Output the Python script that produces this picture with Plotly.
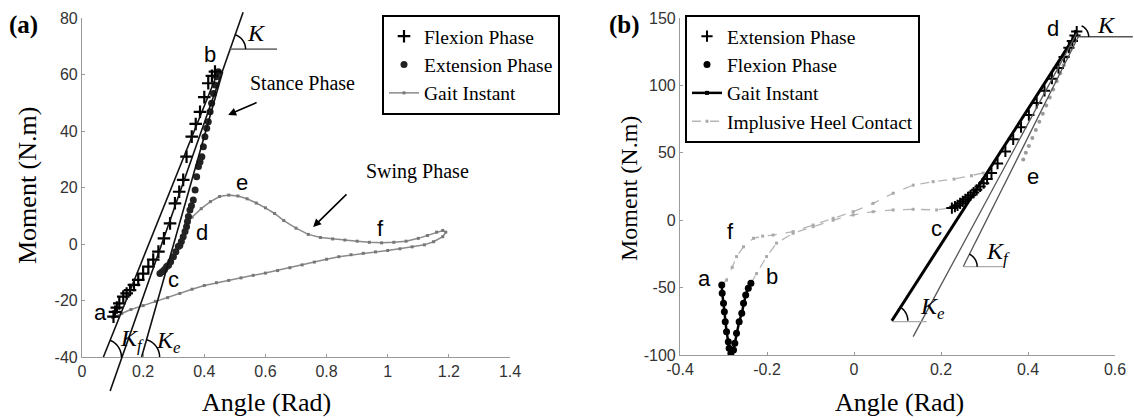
import math
import plotly.graph_objects as go

W, H = 1134, 420

# ---------------- data : panel (a) ----------------
flex_a_x = [0.103, 0.108, 0.114, 0.122, 0.135, 0.146, 0.157, 0.170, 0.184, 0.200, 0.217, 0.233, 0.250,
            0.268, 0.288, 0.304, 0.318, 0.331, 0.342, 0.359, 0.372, 0.386, 0.400, 0.413, 0.425, 0.435]
flex_a_y = [-25.7, -24, -22.5, -21, -18.6, -17.5, -16.3, -14.5, -12.7, -10.5, -8, -5.5, -2.7,
            2, 7.3, 14.4, 18.5, 22.7, 30.9, 38, 42.5, 46.8, 52, 56.9, 59.5, 61]

ext_a_x = [0.446, 0.44, 0.435, 0.43, 0.424, 0.419, 0.413, 0.408, 0.402, 0.397, 0.392, 0.386, 0.381, 0.375,
           0.370, 0.364, 0.358, 0.353, 0.348, 0.345, 0.342, 0.337, 0.331, 0.325, 0.320, 0.315, 0.307,
           0.299, 0.290, 0.283, 0.277, 0.270, 0.262, 0.255]
ext_a_y = [61, 59.2, 56.3, 53.3, 49.8, 46.8, 43.3, 41, 38, 34.4, 30.9, 29, 27.4, 23.8,
           19.1, 15.6, 13.5, 12, 9.7, 8, 6.1, 4.4, 2.6, 0.9, -0.5, -0.9, -2.7,
           -4.5, -6.3, -7.5, -8, -9, -9.8, -10.4]

gait_a_x = [0.34, 0.36, 0.39, 0.42, 0.45, 0.48, 0.51, 0.54, 0.57, 0.60, 0.63, 0.66, 0.70, 0.74, 0.78,
            0.82, 0.86, 0.90, 0.94, 0.98, 1.02, 1.06, 1.10, 1.13, 1.16, 1.18, 1.19, 1.18, 1.15, 1.12,
            1.08, 1.04, 1.00, 0.96, 0.92, 0.88, 0.84, 0.80, 0.76, 0.72, 0.68, 0.64, 0.60, 0.56, 0.52,
            0.48, 0.44, 0.40, 0.36, 0.32, 0.28, 0.24, 0.20, 0.16, 0.13, 0.10]
gait_a_y = [7, 9.5, 12.5, 15, 16.8, 17.3, 17, 16, 14.5, 12.8, 10.8, 8.3, 5.6, 3.4, 2.3,
            1.8, 1.4, 1.0, 0.6, 0.4, 0.6, 1.0, 2.0, 3.0, 4.2, 4.8, 4.2, 2.6, 0.8, -0.3,
            -1.0, -1.7, -2.3, -2.8, -3.3, -3.8, -4.5, -5.4, -6.4, -7.4, -8.4, -9.4, -10.3, -11.1, -12,
            -12.9, -13.7, -14.7, -16, -17.5, -19, -20.3, -21.8, -23.2, -24.6, -26]

# fitted stiffness lines (start point, end point)
kf_line_a = [(0.07, -40), (0.445, 61)]
k_line_a = [(0.092, -52), (0.527, 82)]
ke_line_a = [(0.195, -40), (0.46, 61)]
k_horiz_a = [(0.486, 69), (0.638, 69)]

labels_a = ["a", "b", "c", "d", "e", "f"]
labels_a_x = [0.059, 0.419, 0.298, 0.393, 0.523, 0.975]
labels_a_y = [-24.4, 67, -12.7, 4.2, 21.6, 5.6]

# ---------------- data : panel (b) ----------------
ext_b_x = [0.225, 0.232, 0.238, 0.244, 0.250, 0.256, 0.262, 0.268, 0.275, 0.282, 0.290, 0.298, 0.306,
           0.316, 0.330, 0.348, 0.366, 0.384, 0.402, 0.420, 0.438, 0.455, 0.470, 0.483, 0.494, 0.502,
           0.508, 0.512]
ext_b_y = [9, 10, 11, 12.5, 14, 15.5, 17, 18.5, 20.5, 22.5, 25, 27.5, 30.5,
           35, 42, 51, 60, 69, 78, 87, 96, 105, 113, 121, 128, 133, 137, 140]

flex_b_x = [-0.304, -0.303, -0.300, -0.298, -0.296, -0.293, -0.289, -0.287, -0.283,
            -0.277, -0.274, -0.270, -0.264, -0.258, -0.254, -0.249, -0.243, -0.237]
flex_b_y = [-48.1, -54.2, -61.7, -67.9, -75.3, -82.7, -90.1, -95, -98.7,
            -96.3, -91.3, -83.9, -75.3, -69.1, -61.7, -55.5, -50.5, -46.8]

heel_up_x = [-0.304, -0.293, -0.28, -0.27, -0.254, -0.231, -0.21, -0.186, -0.14, -0.094, -0.048,
             -0.002, 0.044, 0.09, 0.136, 0.182, 0.23, 0.27, 0.297]
heel_up_y = [-48, -44.4, -35, -27, -19.7, -13.4, -11.8, -11, -8.5, -3.6, 1.4,
             6.3, 12.5, 20, 26, 28.6, 30.5, 33, 35]
heel_lo_x = [-0.237, -0.224, -0.201, -0.178, -0.14, -0.094, -0.048, -0.002, 0.044, 0.09, 0.136, 0.19, 0.228]
heel_lo_y = [-46.8, -39.6, -27, -17, -9.7, -4.8, 0, 3.9, 6.3, 7.6, 8.1, 7.6, 9.5]

grey_b_x = [0.512, 0.505, 0.498, 0.49, 0.482, 0.474, 0.466, 0.458, 0.45, 0.442, 0.434, 0.426,
            0.418, 0.41, 0.402, 0.395, 0.389]
grey_b_y = [138, 133, 127, 121, 115, 109, 103, 97, 91, 85, 79, 73, 67, 61, 55, 50, 45]

ke_line_b = [(0.087, -74.6), (0.512, 138.6)]
k_line_b = [(0.136, -86.4), (0.512, 138.6)]
kf_line_b = [(0.251, -34.5), (0.517, 137)]
ke_horiz_b = [(0.087, -75.3), (0.167, -75.3)]
kf_horiz_b = [(0.251, -34.5), (0.343, -34.5)]
k_horiz_b = [(0.512, 136), (0.641, 136)]

labels_b = ["a", "b", "f", "c", "d", "e"]
labels_b_x = [-0.343, -0.189, -0.285, 0.19, 0.457, 0.412]
labels_b_y = [-43, -41.9, -8.5, -6, 142, 32.3]

# ---------------- axes ----------------
A_XR, A_YR = [0, 1.4], [-40, 80]
B_XR, B_YR = [-0.4, 0.6], [-100, 150]
A_XD, A_YD = [82 / W, 510 / W], [63 / H, 402 / H]
B_XD, B_YD = [680 / W, 1115 / W], [65 / H, 402 / H]
A_XT = [0, 0.2, 0.4, 0.6, 0.8, 1, 1.2, 1.4]
A_YT = [-40, -20, 0, 20, 40, 60, 80]
B_XT = [-0.4, -0.2, 0, 0.2, 0.4, 0.6]
B_YT = [-100, -50, 0, 50, 100, 150]

PANELS = {"a": (A_XR, A_YR, A_XD, A_YD), "b": (B_XR, B_YR, B_XD, B_YD)}


def to_paper(panel, x, y):
    xr, yr, xd, yd = PANELS[panel]
    px = xd[0] + (x - xr[0]) / (xr[1] - xr[0]) * (xd[1] - xd[0])
    py = yd[0] + (y - yr[0]) / (yr[1] - yr[0]) * (yd[1] - yd[0])
    return px, py


def fmt(v):
    return "%g" % v


shapes = []


def line_shape(panel, seg, color="black", width=1.5):
    (x0, y0), (x1, y1) = seg
    p0 = to_paper(panel, x0, y0)
    p1 = to_paper(panel, x1, y1)
    shapes.append(dict(type="line", xref="paper", yref="paper", x0=p0[0], y0=p0[1], x1=p1[0], y1=p1[1],
                       line=dict(color=color, width=width)))


def arc_shape(panel, seg, radius, color="black", width=1.5):
    (x0, y0), (x1, y1) = seg
    c = to_paper(panel, x0, y0)
    p1 = to_paper(panel, x1, y1)
    theta = math.atan2((p1[1] - c[1]) * H, (p1[0] - c[0]) * W)
    n = 16
    pts = []
    for i in range(n + 1):
        t = theta * i / n
        pts.append((c[0] + radius * math.cos(t) / W, c[1] + radius * math.sin(t) / H))
    path = "M " + " L ".join("%.5f,%.5f" % p for p in pts)
    shapes.append(dict(type="path", xref="paper", yref="paper", path=path,
                       line=dict(color=color, width=width)))


fig = go.Figure()

SERIF = "Liberation Serif"
SANS = "Liberation Sans"

# ---------- panel (a) traces ----------
fig.add_trace(go.Scatter(x=gait_a_x, y=gait_a_y, mode="lines+markers", name="Gait Instant",
                         line=dict(color="#8a8a8a", width=1.5),
                         marker=dict(symbol="square", size=3, color="#777"),
                         xaxis="x", yaxis="y", legend="legend", legendrank=3))
fig.add_trace(go.Scatter(x=ext_a_x, y=ext_a_y, mode="markers", name="Extension Phase",
                         marker=dict(symbol="circle", size=7, color="#222"),
                         xaxis="x", yaxis="y", legend="legend", legendrank=2))
fig.add_trace(go.Scatter(x=flex_a_x, y=flex_a_y, mode="markers", name="Flexion Phase",
                         marker=dict(symbol="cross-thin", size=9, line=dict(color="black", width=2.2)),
                         xaxis="x", yaxis="y", legend="legend", legendrank=1))

# ---------- panel (b) traces ----------
fig.add_trace(go.Scatter(x=heel_up_x, y=heel_up_y, mode="lines+markers", name="Implusive Heel Contact",
                         line=dict(color="#b5b5b5", width=1.3, dash="dash"),
                         marker=dict(symbol="square", size=3, color="#aaa"),
                         xaxis="x2", yaxis="y2", legend="legend2", legendrank=4))
fig.add_trace(go.Scatter(x=heel_lo_x, y=heel_lo_y, mode="lines+markers", showlegend=False,
                         line=dict(color="#b5b5b5", width=1.3, dash="dash"),
                         marker=dict(symbol="square", size=3, color="#aaa"),
                         xaxis="x2", yaxis="y2", legend="legend2"))
fig.add_trace(go.Scatter(x=grey_b_x, y=grey_b_y, mode="markers", showlegend=False,
                         marker=dict(symbol="circle", size=4, color="#9a9a9a"),
                         xaxis="x2", yaxis="y2", legend="legend2"))
fig.add_trace(go.Scatter(x=flex_b_x, y=flex_b_y, mode="lines+markers", name="Gait Instant",
                         line=dict(color="black", width=2.5),
                         marker=dict(symbol="square", size=4, color="black"),
                         xaxis="x2", yaxis="y2", legend="legend2", legendrank=3))
fig.add_trace(go.Scatter(x=flex_b_x, y=flex_b_y, mode="markers", name="Flexion Phase",
                         marker=dict(symbol="circle", size=7, color="black"),
                         xaxis="x2", yaxis="y2", legend="legend2", legendrank=2))
fig.add_trace(go.Scatter(x=ext_b_x, y=ext_b_y, mode="markers", name="Extension Phase",
                         marker=dict(symbol="cross-thin", size=8, line=dict(color="black", width=2)),
                         xaxis="x2", yaxis="y2", legend="legend2", legendrank=1))

# ---------- fit lines / angle marks ----------
line_shape("a", kf_line_a, "#111", 1.6)
line_shape("a", k_line_a, "#111", 1.6)
line_shape("a", ke_line_a, "#111", 1.6)
line_shape("a", k_horiz_a, "#777", 1.6)
arc_shape("a", kf_line_a, 18)
arc_shape("a", ke_line_a, 18)
arc_shape("a", [k_horiz_a[0], k_line_a[1]], 15)

line_shape("b", ke_line_b, "black", 3)
line_shape("b", k_line_b, "#555", 1.3)
line_shape("b", kf_line_b, "#555", 1.3)
line_shape("b", ke_horiz_b, "#aaa", 1.3)
line_shape("b", kf_horiz_b, "#aaa", 1.3)
line_shape("b", k_horiz_b, "#555", 1.5)
arc_shape("b", ke_line_b, 16)
arc_shape("b", kf_line_b, 14)
arc_shape("b", [k_horiz_b[0], (0.6, 200)], 12)

fig.update_layout(shapes=shapes)

# ---------- annotations ----------
C = dict(xanchor="center", yanchor="middle", showarrow=False)
ann = []
for t, x, y in zip(labels_a, labels_a_x, labels_a_y):
    ann.append(dict(x=x, y=y, xref="x", yref="y", text=t,
                    font=dict(family=SANS, size=22, color="black"), **C))
for t, x, y in zip(labels_b, labels_b_x, labels_b_y):
    ann.append(dict(x=x, y=y, xref="x2", yref="y2", text=t,
                    font=dict(family=SANS, size=22, color="black"), **C))

kfont = dict(family=SERIF, size=24, color="black")
ann += [
    dict(x=0.572, y=74.7, xref="x", yref="y", text="<i>K</i>", font=kfont, **C),
    dict(x=0.165, y=-34, xref="x", yref="y", text="<i>K<sub>f</sub></i>", font=kfont, **C),
    dict(x=0.282, y=-34.7, xref="x", yref="y", text="<i>K<sub>e</sub></i>", font=kfont, **C),
    dict(x=0.581, y=144.8, xref="x2", yref="y2", text="<i>K</i>", font=kfont, **C),
    dict(x=0.33, y=-24.5, xref="x2", yref="y2", text="<i>K<sub>f</sub></i>", font=kfont, **C),
    dict(x=0.181, y=-65.3, xref="x2", yref="y2", text="<i>K<sub>e</sub></i>", font=kfont, **C),
    dict(x=0.72, y=57, xref="x", yref="y", text="Stance Phase",
         font=dict(family=SERIF, size=20, color="black"), **C),
    dict(x=1.096, y=25.5, xref="x", yref="y", text="Swing Phase",
         font=dict(family=SERIF, size=20, color="black"), **C),
    dict(x=0.478, y=45.7, ax=0.576, ay=50.3, xref="x", yref="y", axref="x", ayref="y", text="",
         showarrow=True, arrowhead=2, arrowsize=1, arrowwidth=1.6, arrowcolor="black"),
    dict(x=0.756, y=6, ax=0.87, ay=18.1, xref="x", yref="y", axref="x", ayref="y", text="",
         showarrow=True, arrowhead=2, arrowsize=1, arrowwidth=1.6, arrowcolor="black"),
    dict(x=23 / W, y=1 - 25 / H, xref="paper", yref="paper", text="<b>(a)</b>",
         font=dict(family=SERIF, size=25, color="black"), **C),
    dict(x=624 / W, y=1 - 25 / H, xref="paper", yref="paper", text="<b>(b)</b>",
         font=dict(family=SERIF, size=25, color="black"), **C),
    dict(x=27 / W, y=1 - 186 / H, xref="paper", yref="paper", text="Moment (N.m)",
         textangle=-90, font=dict(family=SERIF, size=26, color="black"), **C),
    dict(x=629 / W, y=1 - 189 / H, xref="paper", yref="paper", text="Moment (N.m)",
         textangle=-90, font=dict(family=SERIF, size=24, color="black"), **C),
    dict(x=266 / W, y=1 - 402 / H, xref="paper", yref="paper", text="Angle (Rad)",
         font=dict(family=SERIF, size=26, color="black"), **C),
    dict(x=899 / W, y=1 - 402 / H, xref="paper", yref="paper", text="Angle (Rad)",
         font=dict(family=SERIF, size=26, color="black"), **C),
]

axis_common = dict(showline=True, linecolor="#9a9a9a", linewidth=1.2, showgrid=False, zeroline=False,
                   ticks="inside", ticklen=3, tickcolor="#9a9a9a", mirror=False, automargin=False,
                   tickfont=dict(family=SANS, size=16, color="#333"))

fig.update_layout(
    width=W, height=H, margin=dict(l=0, r=0, t=0, b=0, autoexpand=False),
    paper_bgcolor="white", plot_bgcolor="white",
    xaxis=dict(domain=A_XD, range=A_XR, anchor="y", tickvals=A_XT, ticktext=[fmt(v) for v in A_XT], **axis_common),
    yaxis=dict(domain=A_YD, range=A_YR, anchor="x", tickvals=A_YT, ticktext=[fmt(v) for v in A_YT], **axis_common),
    xaxis2=dict(domain=B_XD, range=B_XR, anchor="y2", tickvals=B_XT, ticktext=[fmt(v) for v in B_XT], **axis_common),
    yaxis2=dict(domain=B_YD, range=B_YR, anchor="x2", tickvals=B_YT, ticktext=[fmt(v) for v in B_YT], **axis_common),
    legend=dict(x=382 / W, y=1 - 15 / H, xanchor="left", yanchor="top", bordercolor="black", borderwidth=2,
                bgcolor="white", font=dict(family=SERIF, size=19.5, color="black"), tracegroupgap=0),
    legend2=dict(x=685 / W, y=1 - 15 / H, xanchor="left", yanchor="top", bordercolor="black", borderwidth=2,
                 bgcolor="white", font=dict(family=SERIF, size=19.5, color="black"), tracegroupgap=0),
    annotations=ann,
    showlegend=True,
)

fig.write_html("out.html")
